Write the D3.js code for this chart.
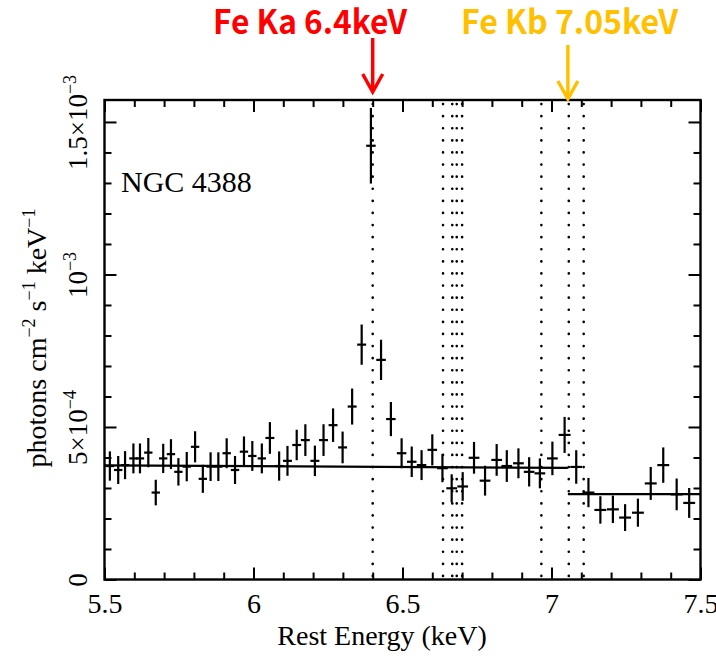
<!DOCTYPE html>
<html><head><meta charset="utf-8">
<script src="https://cdn.jsdelivr.net/npm/d3@7"></script>
<style>body{margin:0;background:#fff}svg{display:block}</style>
</head><body>
<svg id="c" width="716" height="661"></svg>
<script>
// ---- data (flux in units of 1e-4 photons cm^-2 s^-1 keV^-1) ----
const energy = [5.518,5.546,5.569,5.597,5.619,5.647,5.672,5.697,5.723,5.748,5.776,5.804,5.830,5.856,5.882,5.910,5.938,5.968,5.996,6.028,
  6.055,6.086,6.114,6.145,6.174,6.206,6.235,6.267,6.299,6.331,6.363,6.394,6.428,6.461,6.497,6.531,6.564,6.600,6.634,6.665,
  6.702,6.740,6.777,6.816,6.850,6.889,6.925,6.961,7.003,7.044,7.083,7.124,7.164,7.206,7.247,7.290,7.333,7.375,7.420,7.462];
const flux = [3.72,3.59,3.75,3.97,3.97,4.16,2.85,3.97,4.11,3.53,3.70,4.35,3.30,3.70,3.70,4.14,3.59,4.19,4.05,3.97,
  4.64,3.72,3.89,4.41,4.57,3.89,4.57,5.06,4.33,5.67,7.70,14.22,7.20,5.26,4.14,3.86,3.75,4.25,3.65,2.99,
  3.05,3.99,3.24,3.92,3.72,3.81,3.53,3.48,3.97,4.74,3.69,2.85,2.28,2.30,2.03,2.19,3.15,3.75,2.79,2.51];
const fluxErr = [0.48,0.46,0.46,0.49,0.49,0.48,0.42,0.48,0.49,0.45,0.48,0.51,0.46,0.47,0.47,0.49,0.46,0.50,0.49,0.49,
  0.52,0.48,0.49,0.50,0.52,0.50,0.52,0.55,0.52,0.59,0.66,1.24,0.66,0.56,0.49,0.50,0.49,0.51,0.46,0.46,
  0.47,0.52,0.49,0.52,0.52,0.49,0.48,0.49,0.55,0.59,0.55,0.48,0.45,0.45,0.44,0.46,0.54,0.58,0.52,0.49];
const energyHalfWidth = [0.014,0.014,0.014,0.014,0.014,0.014,0.014,0.014,0.014,0.014,0.014,0.014,0.014,0.014,0.014,0.014,0.014,0.014,0.014,0.014,
  0.015,0.015,0.015,0.015,0.015,0.015,0.015,0.015,0.015,0.015,0.015,0.016,0.016,0.016,0.016,0.016,0.016,0.016,0.018,0.018,
  0.018,0.018,0.018,0.018,0.018,0.018,0.018,0.018,0.018,0.020,0.020,0.020,0.020,0.020,0.020,0.020,0.020,0.020,0.020,0.020];
const modelUpperE = [5.5, 7.055];
const modelUpperF = [3.74, 3.66];
const modelLowerE = [7.055, 7.5];
const modelLowerF = [2.80, 2.80];
const lineEnergies = [6.4, 6.636, 6.667, 6.682, 6.700, 6.966, 7.058, 7.108];
const xMajorTicks = [5.5, 6, 6.5, 7, 7.5];
const xTickLabels = ["5.5", "6", "6.5", "7", "7.5"];
const xMinorTicks = [5.6,5.7,5.8,5.9,6.1,6.2,6.3,6.4,6.6,6.7,6.8,6.9,7.1,7.2,7.3,7.4];
const yMajorTicks = [0, 5, 10, 15];
const yTickMantissa = ["0", "5×10", "10", "1.5×10"];
const yTickExponent = ["", "−4", "−3", "−3"];
const yMinorTicks = [1,2,3,4,6,7,8,9,11,12,13,14];
const annotations = [
  {text: "Fe Ka 6.4keV", energy: 6.4, color: "#ff0000"},
  {text: "Fe Kb 7.05keV", energy: 7.055, color: "#ffc000"}
];

// ---- layout ----
const L = 104.5, R = 700.5, T = 100, B = 579.5;
const serif = "'Liberation Serif','Times New Roman',serif";
const svg = d3.select("#c");
svg.append("rect").attr("width",716).attr("height",661).attr("fill","#fff");

const x = d3.scaleLinear().domain([5.5, 7.5]).range([L, R]);
const y = d3.scaleLinear().domain([0, 15.72]).range([B, T]);

// dotted line markers
svg.append("g").selectAll("line").data(lineEnergies).join("line")
  .attr("x1", d => x(d)).attr("x2", d => x(d))
  .attr("y1", T + 4).attr("y2", B)
  .attr("stroke", "#000").attr("stroke-width", 2.6)
  .attr("stroke-linecap", "round").attr("stroke-dasharray", "0.1,12");

// model
const lineGen = d3.line().x(d => x(d[0])).y(d => y(d[1]));
[[modelUpperE, modelUpperF], [modelLowerE, modelLowerF]].forEach(([es, fs]) => {
  svg.append("path").attr("d", lineGen(es.map((e, i) => [e, fs[i]])))
    .attr("fill", "none").attr("stroke", "#000").attr("stroke-width", 2.2);
});

// data crosses
const pts = energy.map((e, i) => ({e, f: flux[i], df: fluxErr[i], de: energyHalfWidth[i]}));
const gp = svg.append("g").attr("stroke", "#000").attr("stroke-width", 2.2);
gp.selectAll("line.v").data(pts).join("line").attr("class", "v")
  .attr("x1", d => x(d.e)).attr("x2", d => x(d.e))
  .attr("y1", d => y(d.f - d.df)).attr("y2", d => y(d.f + d.df));
gp.selectAll("line.h").data(pts).join("line").attr("class", "h")
  .attr("x1", d => x(d.e - d.de)).attr("x2", d => x(d.e + d.de))
  .attr("y1", d => y(d.f)).attr("y2", d => y(d.f));

// axes ticks
function styleAxis(g) {
  g.select(".domain").remove();
  g.selectAll(".tick line").attr("stroke", "#000").attr("stroke-width", 2);
}
svg.append("g").attr("transform", `translate(0,${B})`)
  .call(d3.axisBottom(x).tickValues(xMinorTicks).tickSize(-7).tickFormat("")).call(styleAxis);
svg.append("g").attr("transform", `translate(0,${T})`)
  .call(d3.axisTop(x).tickValues(xMinorTicks).tickSize(-7).tickFormat("")).call(styleAxis);
svg.append("g").attr("transform", `translate(0,${T})`)
  .call(d3.axisTop(x).tickValues(xMajorTicks).tickSize(-12).tickFormat("")).call(styleAxis);
const gxb = svg.append("g").attr("transform", `translate(0,${B})`)
  .call(d3.axisBottom(x).tickValues(xMajorTicks).tickSize(-12).tickPadding(14)
    .tickFormat((d, i) => xTickLabels[i])).call(styleAxis);
gxb.selectAll(".tick text").attr("font-family", serif).attr("font-size", 28).attr("fill", "#000");

svg.append("g").attr("transform", `translate(${L},0)`)
  .call(d3.axisLeft(y).tickValues(yMinorTicks).tickSize(-7).tickFormat("")).call(styleAxis);
svg.append("g").attr("transform", `translate(${R},0)`)
  .call(d3.axisRight(y).tickValues(yMinorTicks).tickSize(-7).tickFormat("")).call(styleAxis);
svg.append("g").attr("transform", `translate(${R},0)`)
  .call(d3.axisRight(y).tickValues(yMajorTicks).tickSize(-12).tickFormat("")).call(styleAxis);
const gyl = svg.append("g").attr("transform", `translate(${L},0)`)
  .call(d3.axisLeft(y).tickValues(yMajorTicks).tickSize(-12).tickFormat(() => "")).call(styleAxis);
gyl.selectAll(".tick text").each(function(d, i) {
  const t = d3.select(this);
  t.attr("x", null).attr("dy", null).attr("text-anchor", "middle")
    .attr("transform", "translate(-18,0) rotate(-90)")
    .attr("font-family", serif).attr("font-size", 27).attr("fill", "#000");
  t.append("tspan").text(yTickMantissa[i]);
  if (yTickExponent[i]) t.append("tspan").attr("dy", -11).attr("font-size", 18).text(yTickExponent[i]);
});

// frame
svg.append("rect").attr("x", L).attr("y", T).attr("width", R - L).attr("height", B - T)
  .attr("fill", "none").attr("stroke", "#000").attr("stroke-width", 2.4);

// axis titles
svg.append("text").attr("x", 382).attr("y", 645).attr("text-anchor", "middle")
  .attr("font-family", serif).attr("font-size", 28).attr("fill", "#000").text("Rest Energy (keV)");
const yt = svg.append("text").attr("transform", "translate(46,338) rotate(-90)")
  .attr("text-anchor", "middle").attr("font-family", serif).attr("font-size", 28).attr("fill", "#000");
[["photons cm", ""], ["−2", "sup"], [" s", ""], ["−1", "sup"], [" keV", ""], ["−1", "sup"]].forEach(([s, k], i, arr) => {
  const ts = yt.append("tspan").text(s);
  if (k === "sup") ts.attr("dy", -11).attr("font-size", 18);
  else if (i > 0 && arr[i - 1][1] === "sup") ts.attr("dy", 11);
});

// source label
svg.append("text").attr("x", 121).attr("y", 192).attr("font-family", serif)
  .attr("font-size", 30).attr("fill", "#000").text("NGC 4388");

// annotations
const annX = [213, 461], annW = [194, 217], arrowTop = [38, 45], arrowBot = [92, 99];
annotations.forEach((a, i) => {
  svg.append("text").attr("x", annX[i]).attr("y", 34)
    .attr("font-family", "'Noto Sans CJK KR','Noto Sans',sans-serif").attr("font-weight", "bold")
    .attr("font-size", 33).attr("fill", a.color)
    .attr("textLength", annW[i]).attr("lengthAdjust", "spacingAndGlyphs").text(a.text);
  const ax = x(a.energy);
  svg.append("line").attr("x1", ax).attr("x2", ax).attr("y1", arrowTop[i]).attr("y2", arrowBot[i] - 2)
    .attr("stroke", a.color).attr("stroke-width", 3.5);
  svg.append("path").attr("d", `M${ax - 10},${arrowBot[i] - 18}L${ax},${arrowBot[i]}L${ax + 10},${arrowBot[i] - 18}`)
    .attr("fill", "none").attr("stroke", a.color).attr("stroke-width", 3.5);
});
</script>
</body></html>
